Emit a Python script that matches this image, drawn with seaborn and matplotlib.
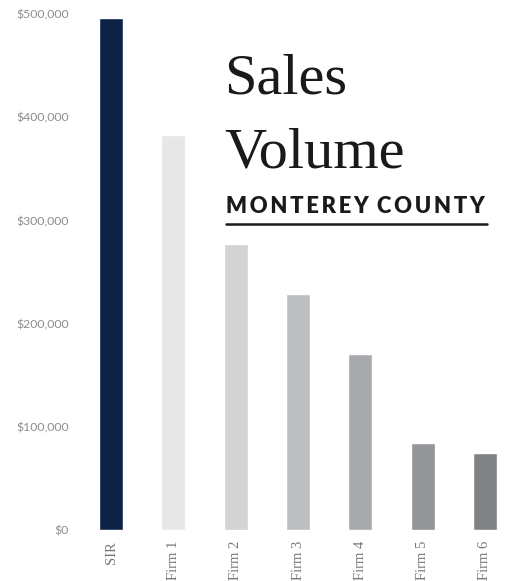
import matplotlib
matplotlib.use("Agg")
import matplotlib.pyplot as plt
import seaborn as sns
import pandas as pd
from matplotlib.ticker import FuncFormatter

categories = ["SIR", "Firm 1", "Firm 2", "Firm 3", "Firm 4", "Firm 5", "Firm 6"]
sales_volume = [496000, 383000, 277000, 229000, 170500, 84000, 75000]
bar_colors = ["#0c2345", "#e6e7e8", "#d1d3d4", "#bcbec0", "#a7a9ac", "#939598", "#808285"]
y_ticks = [0, 100000, 200000, 300000, 400000, 500000]

sns.set_theme(style="white")
plt.rcParams["font.family"] = ["Lato", "DejaVu Sans"]

W, H = 506, 581
fig = plt.figure(figsize=(W / 100, H / 100), dpi=100)
left, right_px, top_px, bottom_px = 80, 506, 14, 530
ax = fig.add_axes([left / W, (H - bottom_px) / H, (right_px - left) / W, (bottom_px - top_px) / H])

df = pd.DataFrame({"firm": categories, "volume": sales_volume})
sns.barplot(data=df, x="firm", y="volume", hue="firm", palette=bar_colors,
            width=0.385, legend=False, ax=ax, saturation=1)

ax.set_xlim(-0.5, (right_px - left) / 62.3 - 0.5)
ax.set_ylim(0, 500000)
ax.set_yticks(y_ticks)
ax.yaxis.set_major_formatter(FuncFormatter(lambda v, p: f"${v:,.0f}"))
ax.set_xlabel("")
ax.set_ylabel("")
for s in ax.spines.values():
    s.set_visible(False)
ax.tick_params(axis="y", length=0, pad=8, labelsize=8.8, labelcolor="#8c8c8c")
ax.tick_params(axis="x", length=0, pad=8, labelsize=10.5, labelcolor="#777777")
for lab in ax.get_xticklabels():
    lab.set_rotation(90)
    lab.set_family(["Liberation Serif", "DejaVu Serif"])
    lab.set_va("top")
ax.grid(False)

serif = ["Liberation Serif", "DejaVu Serif"]
fig.text(224 / W, 1 - 93 / H, "Sales", family=serif,
         fontsize=42, color="#1a1a1a", ha="left", va="baseline")
fig.text(224 / W, 1 - 168 / H, "Volume", family=serif,
         fontsize=42, color="#1a1a1a", ha="left", va="baseline")
spaced = "\u2009".join("MONTEREY") + "\u2009\u2009\u2009" + "\u2009".join("COUNTY")
fig.text(226 / W, 1 - 213 / H, spaced,
         family=["Lato", "DejaVu Sans"], fontsize=15.8, fontweight="heavy", color="#1a1a1a",
         ha="left", va="baseline")
fig.add_artist(plt.Line2D([226 / W, 487 / W], [1 - 224 / H, 1 - 224 / H],
                          color="#1a1a1a", linewidth=1.8, transform=fig.transFigure))

fig.savefig("out.png", dpi=100, facecolor="white")
